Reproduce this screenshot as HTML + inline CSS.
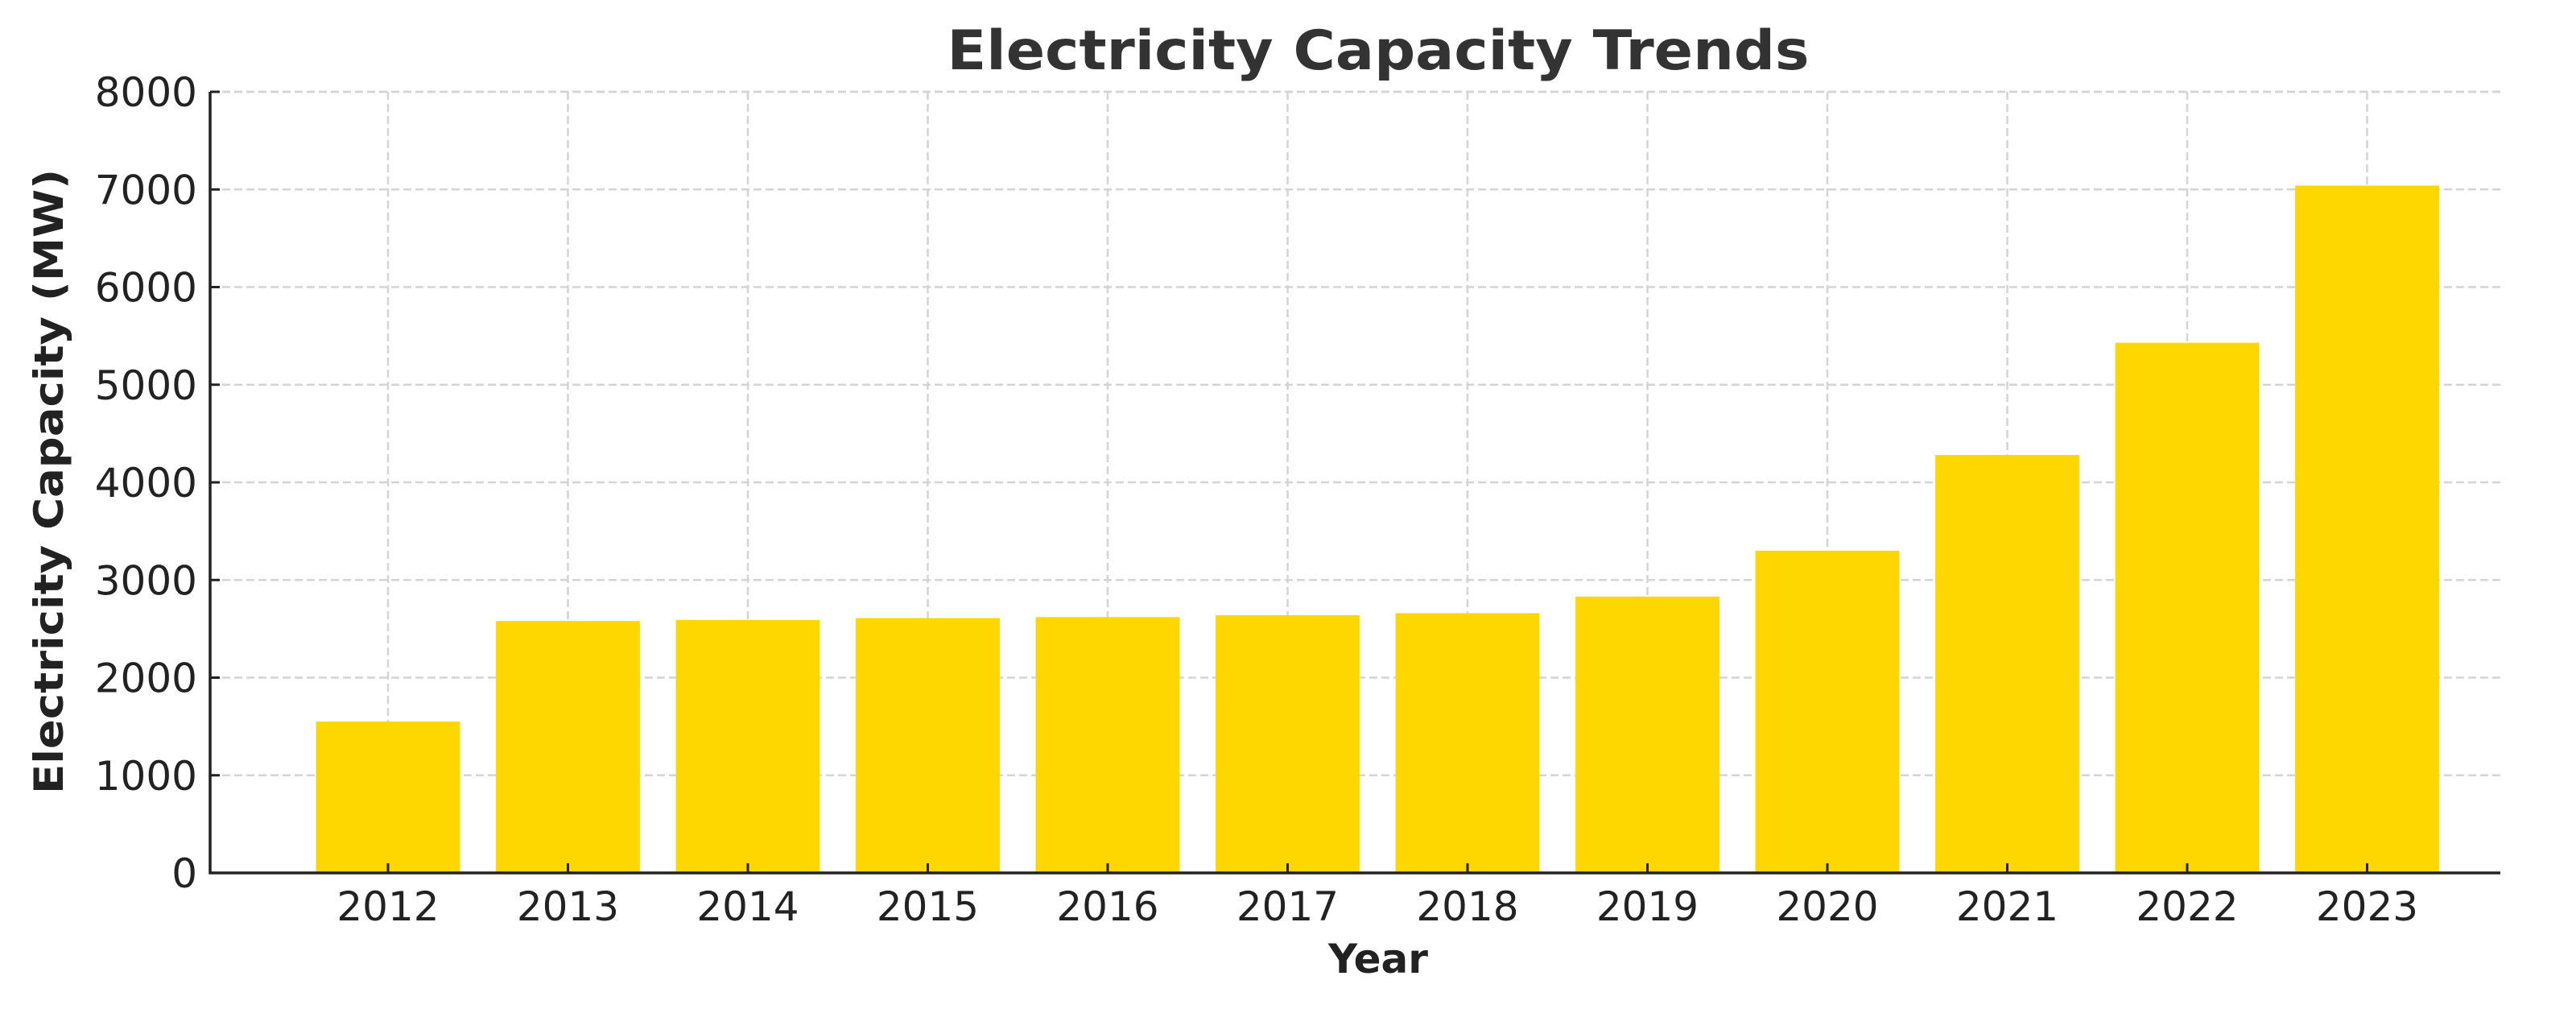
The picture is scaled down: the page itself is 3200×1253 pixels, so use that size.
<!DOCTYPE html>
<html><head><meta charset="utf-8"><style>
html,body{margin:0;padding:0;background:#fff;}
svg{display:block;font-family:"DejaVu Sans","Liberation Sans",sans-serif;}
</style></head><body>
<svg id="chart" width="3200" height="1253" viewBox="0 0 3200 1253" xmlns="http://www.w3.org/2000/svg">
<rect width="3200" height="1253" fill="#fff"/>
<g id="grid"></g>
<g id="bars"></g>
<g id="axes"></g>
<text x="1712" y="86" text-anchor="middle" font-size="68" font-weight="bold" fill="#333" textLength="1071" lengthAdjust="spacingAndGlyphs">Electricity Capacity Trends</text>
<text x="1712" y="1208" text-anchor="middle" font-size="50" font-weight="bold" fill="#222">Year</text>
<text x="0" y="0" transform="translate(78,598) rotate(-90)" text-anchor="middle" font-size="50" font-weight="bold" fill="#222" textLength="776" lengthAdjust="spacingAndGlyphs">Electricity Capacity (MW)</text>
</svg>
<script>
const categories = ["2012","2013","2014","2015","2016","2017","2018","2019","2020","2021","2022","2023"];
const capacityValues = [1550, 2580, 2590, 2610, 2620, 2640, 2660, 2830, 3300, 4280, 5430, 7040];
const yTicks = [0, 1000, 2000, 3000, 4000, 5000, 6000, 7000, 8000];

const NS = "http://www.w3.org/2000/svg";
const plotLeft = 261, plotRight = 3106, y0 = 1084, yTop = 114;
const firstCenter = 482, step = 223.5, barW = 178.8;
function xScale(i){ return firstCenter + i*step; }
function yScale(v){ return y0 - (v/8000)*(y0 - yTop); }
function mk(tag, attrs, parent){ const e=document.createElementNS(NS,tag); for(const k in attrs) e.setAttribute(k,attrs[k]); parent.appendChild(e); return e; }

const grid = document.getElementById('grid');
const bars = document.getElementById('bars');
const axes = document.getElementById('axes');

yTicks.forEach(t=>{
  const y = yScale(t);
  if(t>0){
    const g = mk('line',{x1:plotLeft,x2:plotRight,y1:y,y2:y,stroke:'#d4d4d4','stroke-width':2.5,'stroke-dasharray':'10,5'},grid);
    
    
  }
  const tk = mk('line',{x1:plotLeft,x2:plotLeft+12,y1:y,y2:y,stroke:'#222','stroke-width':3},axes);
  
  
  const lb = mk('text',{x:245,y:y+18,'text-anchor':'end','font-size':50,fill:'#222'},axes);
  lb.textContent = t;
  
  
});

categories.forEach((c,i)=>{
  const x = xScale(i);
  const g = mk('line',{x1:x,x2:x,y1:yTop,y2:y0,stroke:'#d4d4d4','stroke-width':2.5,'stroke-dasharray':'10,5'},grid);
  
  
  const y = yScale(capacityValues[i]);
  const b = mk('rect',{x:x-barW/2,y:y,width:barW,height:y0-y,fill:'#ffd700'},bars);
  
  
  const tk = mk('line',{x1:x,x2:x,y1:y0,y2:y0-12,stroke:'#222','stroke-width':3},axes);
  
  
  const lb = mk('text',{x:x,y:1143,'text-anchor':'middle','font-size':50,fill:'#222'},axes);
  lb.textContent = c;
  
  
});
// grid top line
const gt = mk('line',{x1:plotLeft,x2:plotRight,y1:yTop,y2:yTop,stroke:'#d4d4d4','stroke-width':2.5,'stroke-dasharray':'10,5'},grid);



const ya = mk('line',{x1:plotLeft,x2:plotLeft,y1:yTop,y2:y0+1.5,stroke:'#222','stroke-width':3.5},axes);


const xa = mk('line',{x1:plotLeft-1.5,x2:plotRight,y1:y0,y2:y0,stroke:'#222','stroke-width':3.5},axes);


</script>
</body></html>
